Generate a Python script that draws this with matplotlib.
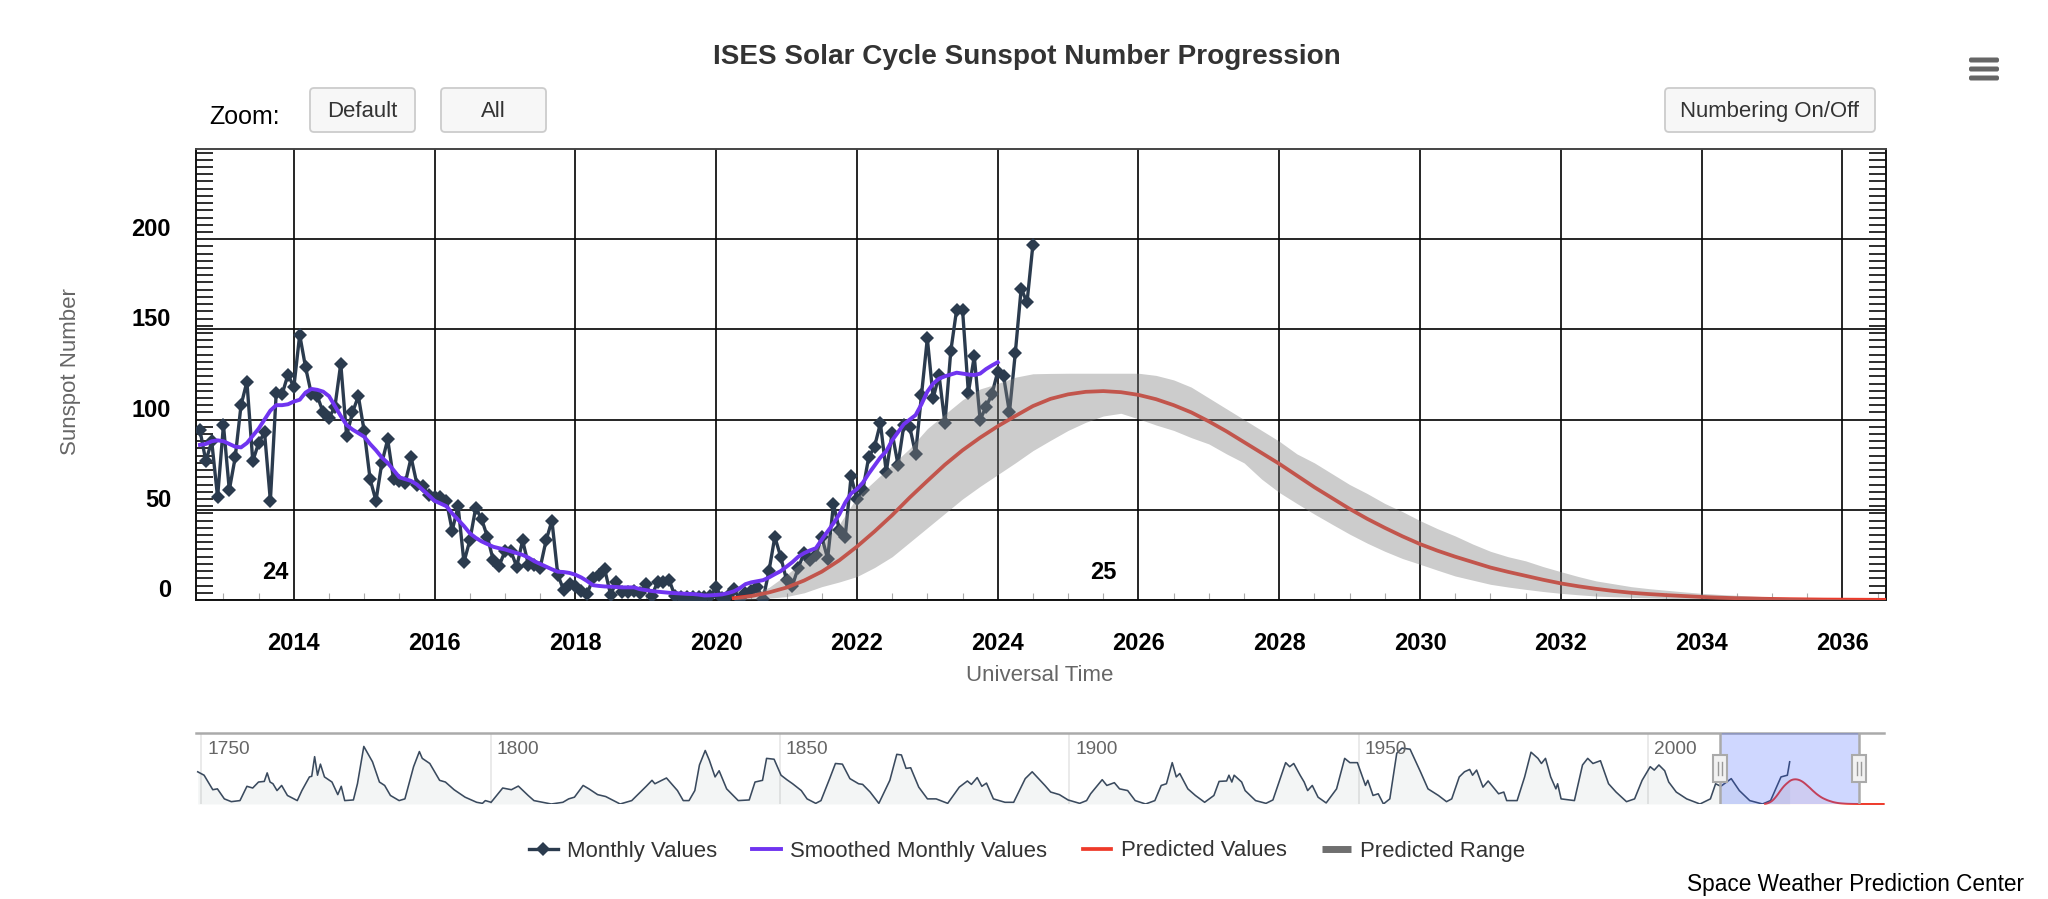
import numpy as np
import matplotlib
matplotlib.use("Agg")
import matplotlib.pyplot as plt
from matplotlib.lines import Line2D
from matplotlib.patches import FancyBboxPatch, Rectangle
from matplotlib.transforms import ScaledTranslation

plt.rcParams['font.family'] = ['Liberation Sans', 'DejaVu Sans']

# ---- data -----------------------------------------------------------------
start_year = 2012 + 8 / 12
monthly_values = [94, 77, 88, 57, 97, 61, 79, 108, 121, 77, 87, 93, 55, 115, 114, 125, 118, 147, 129, 114,
                  113, 104, 101, 107, 131, 91, 104, 113, 93.5, 67, 55, 76, 89, 67, 66, 65, 79, 64, 63, 58,
                  57, 57, 55, 38.5, 52, 21, 33, 51, 45, 35, 22, 19, 27, 27, 18.5, 33, 19.5, 19.5, 18, 33,
                  44, 14, 5.5, 9, 7.5, 5, 3.3, 12, 14, 17, 3, 10, 4.5, 4.5, 5, 4, 9, 2, 10, 10,
                  11, 2, 1.5, 1.5, 1.5, 1.5, 1.5, 2, 7, 1, 2, 6, 0.5, 4, 5, 7, 0.5, 16, 35, 24,
                  11, 8, 18, 26, 22, 25, 35, 23, 53, 39, 35, 68.5, 56, 61, 79, 85, 98, 71, 92.6, 75,
                  97, 96, 81, 113.5, 145, 112, 124.6, 98, 138, 161, 161, 115, 135, 100, 107, 114, 126.5, 124, 104, 137,
                  172.6, 165, 197]
smoothed_values = [86, 86.5, 88, 88.5, 88, 86.5, 85, 84.6, 87, 91, 95, 100, 105, 108, 108, 108.5, 110, 111, 115, 117,
                   116.5, 115.5, 113, 107.5, 102, 97, 94.5, 92.5, 90.5, 86.5, 83, 79, 76, 72, 68, 67, 66, 64, 61, 58,
                   55, 53.5, 52, 48, 44.5, 41, 37, 34.5, 32.5, 31, 29.5, 28.7, 28, 27, 26, 25, 23.5, 21.5, 20, 18.5,
                   17, 15.7, 15.5, 15, 14, 12.5, 10.5, 8.2, 7.8, 7.5, 7.4, 7.2, 7, 7, 7, 6, 5.5, 5, 4.6, 4.3,
                   4, 3.8, 3.6, 3.4, 3.3, 3, 2.5, 2.6, 2.8, 3.1, 3.8, 4.8, 6.5, 8.8, 9.8, 10.4, 11, 12.5, 14.3, 16,
                   18.5, 21, 24, 26, 27.5, 28.7, 33.5, 38, 42.5, 47.5, 54, 59, 61.5, 65, 70, 74.5, 79, 82.5, 88.5, 93,
                   97.5, 100, 102.5, 108.5, 115.5, 120, 122.7, 124, 125, 126, 125.5, 125, 124.7, 125.5, 128, 130, 131.8]

pred_start = 2020.25   # quarterly values
predicted_values = [1.0, 2.2, 4.2, 6.9, 10.8, 15.7, 22, 29.6, 38, 47, 56.8, 66, 75, 83, 90, 96.3,
                    102, 107.5, 111.5, 114, 115.4, 115.8, 115.2, 113.7, 111.3, 108, 104, 99, 93.5, 87.5, 81.5, 75.5,
                    69, 62.5, 56.5, 50.5, 45, 40, 35.3, 31, 27.3, 24, 21, 18, 15.6, 13.4, 11.2, 9.2,
                    7.6, 6.2, 5, 4, 3.3, 2.7, 2.2, 1.7, 1.3, 1, 0.8, 0.6, 0.45, 0.35, 0.25, 0.2,
                    0.15, 0.1, 0.1, 0.1, 0.08, 0.08, 0.06, 0.06, 0.05, 0.05, 0.05, 0.04, 0.04, 0.04, 0.03, 0.03, 0.03, 0.03, 0.02]
range_upper = [1.5, 3.5, 7, 14, 22, 31, 42, 57, 66, 75, 84, 95, 103, 111, 117, 120,
               123.5, 125.4, 125.6, 125.7, 125.7, 125.7, 125.7, 125.7, 124.5, 122, 118, 112, 106, 100, 94, 88,
               81, 76, 70, 64, 59, 53.5, 49, 44, 39.5, 35.5, 31, 27, 24, 21.7, 18.5, 15.7,
               13, 10.6, 9, 7.4, 6.3, 5.4, 4.5, 3.7, 3.1, 2.6, 2.1, 1.7, 1.4, 1.1, 0.9, 0.7,
               0.5, 0.4, 0.35]
range_lower = [0.1, 0.4, 1, 1.9, 4, 7.4, 10, 13, 18, 24, 32, 40, 48, 56, 63, 69.5,
               76, 82.8, 88.5, 94, 98.5, 102, 103.5, 100.4, 97, 94, 90, 86.5, 81, 76, 67, 59.6,
               53.5, 47.6, 42, 36.5, 31.5, 27, 23, 19.8, 16.5, 13.3, 11, 8.7, 7.2, 5.9, 4.7, 3.7,
               2.9, 2.2, 1.8, 1.5, 1.2, 0.9, 0.7, 0.55, 0.4, 0.3, 0.25, 0.2, 0.15, 0.15, 0.1, 0.1,
               0.05, 0.05, 0.05]

nav_years = [1749.4, 1750.5, 1752, 1752.8, 1754, 1755.2, 1756.7, 1757.9, 1758.9, 1759.9, 1760.9, 1761.4, 1761.9, 1762.4, 1763.1, 1763.9,
             1764.9, 1766.6, 1767.4, 1768.7, 1769.1, 1769.6, 1770.1, 1770.6, 1771.3, 1772.6, 1773.6, 1774.2, 1774.8, 1776.3, 1777, 1778.1,
             1779.6, 1780.8, 1781.7, 1782.7, 1784.2, 1785.2, 1786.7, 1787.7, 1788.2, 1789.5, 1791.2, 1792.2, 1793.7, 1795.6, 1797.6, 1798.6,
             1799.1, 1800.1, 1802.1, 1803.6, 1804.8, 1806.5, 1807.5, 1810.5, 1812.5, 1813.5, 1814.5, 1816, 1817, 1818.5, 1819.9, 1822.4,
             1824.4, 1826.9, 1827.9, 1828.4, 1830.4, 1832.3, 1833.3, 1834.3, 1835.3, 1836.1, 1837.1, 1837.8, 1838.8, 1839.5, 1840.8, 1842.8,
             1844.7, 1845.7, 1847, 1847.7, 1849, 1850.2, 1851.2, 1852.2, 1853.7, 1854.7, 1856.2, 1857.1, 1858.6, 1859.6, 1860.8, 1862.1,
             1863.6, 1864.3, 1865.6, 1867.1, 1869, 1870.2, 1871, 1871.8, 1872.6, 1874, 1875.5, 1877, 1879, 1881, 1882.4, 1883.1,
             1884.1, 1884.9, 1885.7, 1886.9, 1888.9, 1890.4, 1892.4, 1893.6, 1895.8, 1896.8, 1898.3, 1899.8, 1901.8, 1903,
             1903.7, 1905.7, 1906.5, 1907.8, 1908.7, 1910.1, 1911.4, 1913.2, 1914.8, 1915.9, 1916.8, 1917.8, 1918.5, 1919.1, 1920.5, 1921.8,
             1923.4, 1925, 1925.9, 1927.2, 1927.6, 1928.1, 1928.5, 1929.8, 1930.4, 1932.2, 1934, 1935.2, 1937.4, 1938.1, 1938.8, 1939.9,
             1940.6, 1941.2, 1942, 1943, 1944.4, 1946.2, 1947.6, 1948.5, 1949.8, 1951.2, 1951.6, 1952.5, 1953.4, 1954.3, 1955.4, 1956.6,
             1957.5, 1958.9, 1960.7, 1962, 1963.8, 1965.2, 1966.1, 1967.4, 1968.3, 1969.2, 1969.7, 1970.4, 1971.5, 1972.4, 1974.2, 1975.1,
             1975.6, 1977.4, 1978.7, 1979.8, 1981, 1981.6, 1982.3, 1983.2, 1984.1, 1984.4, 1985, 1987.3, 1988.7, 1989.6, 1990.5, 1991.8,
             1993.2, 1994.5, 1996.3, 1997.7, 1999, 2000.4, 2001.1, 2001.9, 2002.9, 2003.6, 2004.9, 2006.7, 2009, 2010.8, 2011.7, 2012.6,
             2014.4, 2015.8, 2017.6, 2019.8, 2021.2, 2023, 2024.1, 2024.5]
nav_values = [151, 135, 67, 71, 24, 11, 16, 83, 75, 103, 106, 146, 103, 95, 63, 87,
              40, 16, 63, 127, 130, 222, 135, 187, 127, 103, 44, 83, 16, 19, 95, 270,
              198, 103, 87, 40, 16, 24, 175, 246, 214, 190, 111, 103, 67, 32, 8, 3,
              16, 8, 75, 67, 84, 40, 16, 0, 8, 24, 32, 87, 71, 44, 35, 0,
              16, 83, 111, 95, 122, 63, 16, 16, 63, 183, 251, 206, 127, 156, 71, 16,
              19, 103, 111, 214, 210, 135, 114, 95, 63, 24, 3, 16, 119, 190, 187, 119,
              95, 92, 56, 3, 111, 233, 230, 167, 170, 79, 24, 24, 3, 79, 108, 92,
              124, 83, 98, 24, 8, 8, 119, 151, 87, 56, 44, 19, 3, 16,
              48, 114, 87, 100, 71, 63, 16, 0, 16, 87, 95, 194, 127, 143, 71, 40,
              8, 40, 106, 108, 135, 103, 135, 103, 63, 16, 3, 19, 194, 175, 190, 135,
              103, 63, 87, 32, 5, 71, 214, 194, 194, 87, 111, 40, 48, 0, 24, 238,
              262, 257, 151, 71, 40, 11, 24, 127, 151, 162, 135, 159, 79, 108, 48, 56,
              16, 16, 127, 243, 214, 190, 214, 127, 71, 95, 24, 16, 183, 214, 190, 203,
              95, 56, 11, 24, 111, 175, 159, 183, 156, 103, 56, 24, 0, 24, 95, 83,
              119, 63, 16, 0, 16, 127, 135, 198]

y_ticks = [0, 50, 100, 150, 200]
x_ticks = list(range(2014, 2037, 2))
nav_ticks = [1750, 1800, 1850, 1900, 1950, 2000]
cycle_labels = [(2013.74, '24'), (2025.5, '25')]
selection = (2012.45, 2036.45)

# ---- colours --------------------------------------------------------------
NAVY = '#2b3b4e'
PURPLE = '#7034f0'
RED = '#ee3a2a'
GREY_TXT = '#666666'
DARK_TXT = '#333333'

W, H = 2048, 899
fig = plt.figure(figsize=(W / 100, H / 100), dpi=100, facecolor='white')


def rect(l, t, r, b):
    return [l / W, 1 - b / H, (r - l) / W, (b - t) / H]


month_x = start_year + np.arange(len(monthly_values)) / 12
smooth_x = start_year + np.arange(len(smoothed_values)) / 12
pred_x = pred_start + np.arange(len(predicted_values)) * 0.25
range_x = pred_start + np.arange(len(range_upper)) * 0.25

# ---- main axes ------------------------------------------------------------
ax = fig.add_axes(rect(196, 149, 1886, 600))
ax.set_xlim(2012.61, 2036.62)
ax.set_ylim(0, 250)
ax.set_xticks(x_ticks)
ax.set_xticks(np.arange(2013, 2037, 0.5), minor=True)
ax.set_yticks(y_ticks)
ax.set_yticks(np.arange(4, 250, 4), minor=True)
ax.grid(True, which='major', color='#0a0a0a', lw=1.25, zorder=1)
ax.set_axisbelow(True)
ax.tick_params(axis='x', which='major', length=0, pad=23, labelsize=17, labelcolor='black')
ax.tick_params(axis='x', which='minor', direction='in', length=5, width=0.8, color='#aaaaaa')
ax.tick_params(axis='y', which='major', length=0, pad=18, labelsize=17, labelcolor='black')
ax.tick_params(axis='y', which='minor', direction='in', length=12.2, width=1.15, color='black',
               left=True, right=True)
for lab in ax.get_xticklabels() + ax.get_yticklabels():
    lab.set_fontweight('bold')
offset = ScaledTranslation(0, 12 / 100, fig.dpi_scale_trans)
for lab in ax.get_yticklabels():
    lab.set_transform(lab.get_transform() + offset)
for side in ax.spines.values():
    side.set_color('#111111')
    side.set_linewidth(1.4)
ax.spines['top'].set_color('#444444')

ax.plot(month_x, monthly_values, color=NAVY, lw=2.4, marker='D', ms=7.1, mew=0, zorder=3,
        label='Monthly Values')
ax.plot(smooth_x, smoothed_values, color=PURPLE, lw=2.8, zorder=3.2, label='Smoothed Monthly Values')
ax.plot(pred_x, predicted_values, color=RED, lw=2.7, zorder=3.1, label='Predicted Values')
ax.fill_between(range_x, range_lower, range_upper, color='#808080', alpha=0.4, lw=0, zorder=4,
                label='Predicted Range')

ax.set_xlabel('Universal Time', fontsize=16, color=GREY_TXT)
ax.set_ylabel('Sunspot Number', fontsize=16, color=GREY_TXT)
ax.yaxis.set_label_coords((81 - 196) / (1886 - 196), (600 - 372) / 451)
ax.xaxis.set_label_coords((1040 - 196) / (1886 - 196), (600 - 665) / 451)
for yr, txt in cycle_labels:
    ax.text(yr, 15.5, txt, fontsize=17, fontweight='bold', color='black', ha='center', va='center', zorder=5)

# ---- navigator ------------------------------------------------------------
nav = fig.add_axes(rect(196, 733, 1884, 804))
nav.set_xlim(1749.1, 2040.8)
nav.set_ylim(0, 333)
nav.set_yticks([])
nav.set_xticks(nav_ticks)
nav.tick_params(axis='x', length=0, labelbottom=False)
nav.grid(True, axis='x', color='#e6e6e6', lw=1.2, zorder=0)
nav.set_axisbelow(True)
for k in ('left', 'right', 'bottom'):
    nav.spines[k].set_visible(False)
nav.spines['top'].set_color('#aaaaaa')
nav.spines['top'].set_linewidth(1.8)
nav.fill_between(nav_years, 0, nav_values, color='#2b4b4e', alpha=0.055, lw=0, zorder=1)
nav.plot(nav_years, nav_values, color='#3a4a5e', lw=1.15, zorder=2)
nav.fill_between(pred_x, 0, predicted_values, color=RED, alpha=0.07, lw=0, zorder=1)
nav.plot(pred_x, predicted_values, color=RED, lw=1.4, zorder=2, clip_on=False)
label_shift = ScaledTranslation(6 / 100, -17 / 100, fig.dpi_scale_trans)
for t in nav_ticks:
    nav.text(t, 1, str(t), fontsize=13.8, color=GREY_TXT, ha='left', va='center', zorder=3,
             transform=nav.get_xaxis_transform() + label_shift)
nav.axvspan(selection[0], selection[1], color='#3355ff', alpha=0.23, lw=0, zorder=4)
for s in selection:
    nav.axvline(s, color='#aaaaaa', lw=1.8, zorder=5)

# ---- page furniture in pixel coordinates ----------------------------------
ui = fig.add_axes([0, 0, 1, 1], zorder=10)
ui.set_xlim(0, W)
ui.set_ylim(H, 0)
ui.axis('off')
ui.patch.set_alpha(0)

ui.text(1027, 57.5, 'ISES Solar Cycle Sunspot Number Progression', fontsize=20.1, fontweight='bold',
        color=DARK_TXT, ha='center', va='center')
ui.text(209, 116.5, 'Zoom:', fontsize=18, color='black', ha='left', va='center')


def button(l, r, label):
    ui.add_patch(FancyBboxPatch((l + 3, 88 + 3), r - l - 6, 44 - 6, boxstyle='round,pad=3,rounding_size=4',
                                fc='#f7f7f7', ec='#cccccc', lw=1.3))
    ui.text((l + r) / 2, 111.5, label, fontsize=15.9, color=DARK_TXT, ha='center', va='center')


button(310, 415, 'Default')
button(441, 546, 'All')
button(1665, 1875, 'Numbering On/Off')

for yb in (60, 69, 78):
    ui.add_patch(FancyBboxPatch((1971, yb - 0.5), 26, 1, boxstyle='round,pad=2,rounding_size=2',
                                fc='#666666', ec='none'))


def handle(cx):
    ui.add_patch(Rectangle((cx - 7, 755), 14, 27, fc='#f2f2f2', ec='#aaaaaa', lw=1.5, zorder=6))
    for dx in (-1.7, 1.7):
        ui.plot([cx + dx, cx + dx], [762, 775], color='#999999', lw=1.0, zorder=7)


handle(1720)
handle(1859)

ui.text(2024, 885, 'Space Weather Prediction Center', fontsize=16.3, color='black', ha='right', va='center')

# ---- legend ---------------------------------------------------------------
handles = [Line2D([], [], color=NAVY, lw=2.4, marker='D', ms=7.1, mew=0),
           Line2D([], [], color=PURPLE, lw=2.8),
           Line2D([], [], color=RED, lw=2.7),
           Line2D([], [], color='#6f6f6f', lw=5, solid_capstyle='butt')]
labels = ['Monthly Values', 'Smoothed Monthly Values', 'Predicted Values', 'Predicted Range']
ui.legend(handles, labels, loc='center', bbox_to_anchor=(1027 / W, 1 - 851 / H),
          bbox_transform=fig.transFigure, ncol=4, frameon=False, fontsize=15.9, labelcolor=DARK_TXT,
          handlelength=1.3, handletextpad=0.42, columnspacing=1.6, borderpad=0, numpoints=1)

fig.savefig('out.png', dpi=100)
